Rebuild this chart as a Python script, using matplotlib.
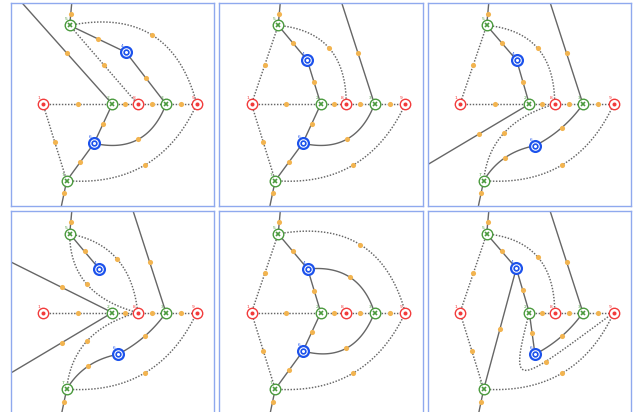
import numpy as np
import matplotlib.pyplot as plt

# station positions inside a panel (pixels, y grows downward)
stations = {
    "1": (32.5, 101.6), "2": (101.8, 101.6), "8": (127.2, 101.6),
    "3": (155.5, 101.6), "9": (186.3, 101.6),
    "5": (59.2, 22.9), "7": (56.2, 178.2),
}
# points where edges run out of the frame
exits = {"T": (61.3, 0.0), "B": (50.9, 203.5), "TL": (11.2, 0.0),
         "TR": (122.6, 0.0), "L1": (1.0, 51.3), "L2": (1.0, 161.6)}

# the two blue stations move from layout to layout
blue4 = [(115.5, 49.8), (88.3, 57.8), (89.2, 57.8), (88.8, 58.0), (88.7, 58.0), (88.8, 57.3)]
blue6 = [(83.5, 140.8), (83.7, 140.8), (107.5, 143.2), (107.5, 143.3), (84.0, 140.0), (107.5, 143.3)]

kind = {"1": "red", "8": "red", "9": "red",
        "2": "green", "3": "green", "5": "green", "7": "green",
        "4": "blue", "6": "blue"}

# edges: (from, to, mid point of a bent edge or None)
solid = [
    [("T", "5", None), ("TL", "2", None), ("5", "4", None), ("4", "3", None),
     ("2", "6", None), ("6", "3", (127.8, 136.8)), ("6", "7", None), ("7", "B", None)],
    [("T", "5", None), ("TR", "3", None), ("5", "4", None), ("4", "2", None),
     ("2", "6", None), ("6", "3", (127.7, 136.8)), ("6", "7", None), ("7", "B", None)],
    [("T", "5", None), ("TR", "3", None), ("5", "4", None), ("4", "2", None),
     ("2", "L2", None), ("3", "6", (134.2, 125.2)), ("6", "7", (77.5, 155.2)), ("7", "B", None)],
    [("T", "5", None), ("TR", "3", None), ("5", "4", None), ("L1", "2", None),
     ("2", "L2", None), ("3", "6", (134.2, 125.2)), ("6", "7", (77.5, 155.3)), ("7", "B", None)],
    [("T", "5", None), ("5", "4", None), ("4", "2", None), ("4", "3", (131.0, 66.3)),
     ("2", "6", None), ("6", "3", (127.3, 137.3)), ("6", "7", None), ("7", "B", None)],
    [("T", "5", None), ("TR", "3", None), ("5", "4", None), ("4", "2", None),
     ("4", "7", None), ("2", "6", None), ("6", "3", (134.2, 125.2)), ("7", "B", None)],
]
dotted = [
    [("1", "2", None), ("2", "8", None), ("8", "3", None), ("3", "9", None),
     ("5", "8", None), ("5", "9", (141.5, 32.5)), ("1", "7", None), ("7", "9", (134.5, 162.5))],
    [("1", "2", None), ("2", "8", None), ("8", "3", None), ("3", "9", None),
     ("5", "1", None), ("5", "8", (110.3, 45.8)), ("1", "7", None), ("7", "9", (134.3, 162.5))],
    [("1", "2", None), ("2", "8", None), ("8", "3", None), ("3", "9", None),
     ("5", "1", None), ("5", "8", (110.2, 45.8)), ("8", "7", (76.8, 130.2)), ("7", "9", (134.5, 162.5))],
    [("1", "2", None), ("2", "8", None), ("8", "3", None), ("3", "9", None),
     ("5", "8", (76.2, 73.0)), ("5", "8", (106.8, 48.3)), ("8", "7", (76.8, 129.7)), ("7", "9", (134.2, 162.0))],
    [("1", "2", None), ("2", "8", None), ("8", "3", None), ("3", "9", None),
     ("5", "1", None), ("5", "9", (141.3, 33.7)), ("1", "7", None), ("7", "9", (134.3, 162.0))],
    [("2", "8", None), ("8", "3", None), ("3", "9", None), ("5", "1", None),
     ("1", "7", None), ("5", "8", (110.2, 46.0)), ("7", "9", (134.8, 162.0))],
]
# one looping edge in the last layout, drawn as a cubic curve
loop_ctrl = [(80.0, 185.0), (90.0, 171.9)]

RED, GREEN, BLUE = "#f23b3b", "#4b9a3e", "#1c52ec"
ORANGE, GREY, FRAME = "#f2b450", "#666666", "#8fa9ee"
DOTS = (0, (1, 1.1))

W, H = 203.5, 203.0
t = np.linspace(0, 1, 120)[:, None]


def quad(p0, mid, p2):
    # quadratic curve passing through mid at t = 0.5
    p0, mid, p2 = map(np.array, (p0, mid, p2))
    c = 2 * mid - (p0 + p2) / 2
    return (1 - t) ** 2 * p0 + 2 * (1 - t) * t * c + t ** 2 * p2


def cubic(p0, c1, c2, p3):
    p0, c1, c2, p3 = map(np.array, (p0, c1, c2, p3))
    return (1 - t) ** 3 * p0 + 3 * (1 - t) ** 2 * t * c1 + 3 * (1 - t) * t ** 2 * c2 + t ** 3 * p3


def halfway(pts):
    # point halfway along a polyline
    seg = np.hypot(*np.diff(pts, axis=0).T)
    s = np.concatenate([[0], np.cumsum(seg)])
    h = s[-1] / 2
    return np.array([np.interp(h, s, pts[:, 0]), np.interp(h, s, pts[:, 1])])


fig = plt.figure(figsize=(6.34, 4.12), dpi=100)

for i in range(6):
    row, col = divmod(i, 3)
    left = 10.5 + col * 208.5
    top = 2.5 + row * 208.5
    ax = fig.add_axes([left / 634, 1 - (top + H) / 412, W / 634, H / 412])
    ax.set_xlim(0, W)
    ax.set_ylim(H, 0)
    ax.set_xticks([])
    ax.set_yticks([])
    for s in ax.spines.values():
        s.set_color(FRAME)
        s.set_linewidth(1.0)

    pos = dict(stations)
    pos.update(exits)
    pos["4"] = blue4[i]
    pos["6"] = blue6[i]

    dots = []
    for edges, style in ((solid[i], "-"), (dotted[i], DOTS)):
        for a, b, mid in edges:
            if mid is None:
                pts = np.array([pos[a], pos[b]])
                dots.append(pts.mean(axis=0))
            else:
                pts = quad(pos[a], mid, pos[b])
                dots.append(mid)
            ax.plot(pts[:, 0], pts[:, 1], color=GREY, lw=1.0 if style == "-" else 1.05,
                    ls=style, zorder=2, solid_capstyle="butt")
    if i == 5:
        pts = cubic(pos["2"], loop_ctrl[0], loop_ctrl[1], pos["9"])
        ax.plot(pts[:, 0], pts[:, 1], color=GREY, lw=1.05, ls=DOTS, zorder=2)
        dots.append(halfway(pts))

    dots = np.array(dots)
    ax.plot(dots[:, 0], dots[:, 1], "o", ms=3.7, color=ORANGE, mec="none", zorder=3)

    for name in ["1", "2", "8", "3", "9", "5", "7", "4", "6"]:
        x, y = pos[name]
        k = kind[name]
        if k == "red":
            ax.plot(x, y, "o", ms=7.5, mfc="white", mec=RED, mew=1.0, zorder=4)
            ax.plot(x, y, "o", ms=2.9, color=RED, mec="none", zorder=5)
            c = RED
        elif k == "green":
            ax.plot(x, y, "o", ms=7.6, mfc="white", mec=GREEN, mew=1.0, zorder=4)
            ax.plot(x, y, "x", ms=3.0, color=GREEN, mew=1.2, zorder=5)
            c = GREEN
        else:
            ax.plot(x, y, "o", ms=7.8, mfc="white", mec=BLUE, mew=1.6, zorder=4)
            ax.plot(x, y, "o", ms=3.4, mfc="white", mec=BLUE, mew=1.2, zorder=5)
            c = BLUE
        ax.text(x - 4, y - 6, name, fontsize=3.2, color=c, ha="center", va="center", zorder=6)

fig.savefig("out.png", dpi=100)
